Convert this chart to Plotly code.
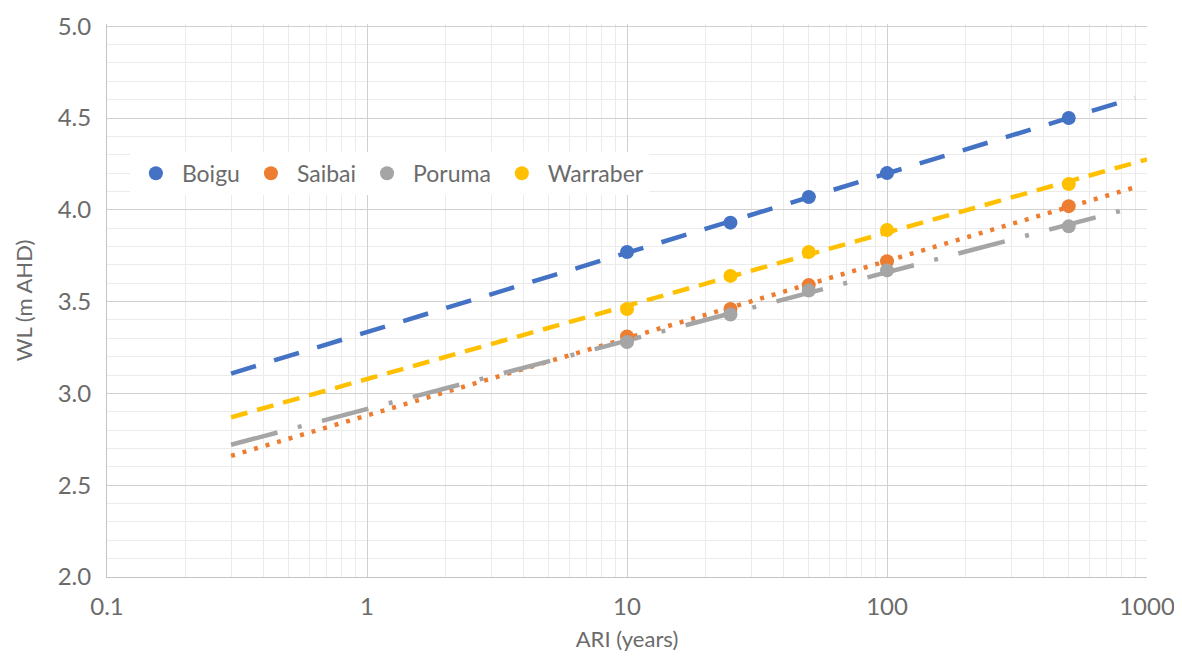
import numpy as np
import plotly.graph_objects as go

ari = [10, 25, 50, 100, 500]
series_names = ["Boigu", "Saibai", "Poruma", "Warraber"]
boigu = [3.77, 3.93, 4.07, 4.20, 4.50]
saibai = [3.31, 3.46, 3.59, 3.72, 4.02]
poruma = [3.28, 3.43, 3.56, 3.67, 3.91]
warraber = [3.46, 3.64, 3.77, 3.89, 4.14]
trend_start = [0.3, 0.3, 0.3, 0.3]
trend_end = [900, 900, 900, 1000]
y_ticks = [2.0, 2.5, 3.0, 3.5, 4.0, 4.5, 5.0]
x_ticks = [0.1, 1, 10, 100, 1000]
x_tick_labels = ["0.1", "1", "10", "100", "1000"]

colors = ["#4472C4", "#ED7D31", "#A5A5A5", "#FFC000"]
dashes = ["26px,19px", "4px,8px", "48px,21px,4px,21px", "17px,10px"]
values = [boigu, saibai, poruma, warraber]

fig = go.Figure()
lx = np.log10(ari)
for name, vals, c, d, s, e in zip(series_names, values, colors, dashes, trend_start, trend_end):
    slope, icpt = np.polyfit(lx, vals, 1)
    tx = np.array([s, e])
    ty = icpt + slope * np.log10(tx)
    fig.add_trace(go.Scatter(x=tx, y=ty, mode="lines", showlegend=False,
                             line=dict(color=c, width=4.5, dash=d), hoverinfo="skip"))
for name, vals, c in zip(series_names, values, colors):
    fig.add_trace(go.Scatter(x=ari, y=vals, mode="markers", name=name,
                             marker=dict(color=c, size=14)))

font = "Lato, 'Open Sans', sans-serif"
txt = "#6b6b6b"
fig.update_layout(
    width=1182, height=657,
    margin=dict(l=99, r=43, t=16, b=88, autoexpand=False),
    plot_bgcolor="white", paper_bgcolor="white",
    font=dict(family=font, size=24, color=txt),
    legend=dict(orientation="h", x=0.022, y=0.73, xanchor="left", yanchor="middle",
                bgcolor="white", font=dict(size=23, color=txt),
                itemwidth=42, tracegroupgap=0),
    xaxis=dict(type="log", range=[-1, 3], automargin=False,
               tickvals=x_ticks, ticktext=x_tick_labels,
               showgrid=True, gridcolor="#d0d0d0", gridwidth=1,
               minor=dict(tickvals=[m * 10 ** k for k in range(-1, 3) for m in range(2, 10)],
                          showgrid=True, gridcolor="#ebebeb", gridwidth=1, ticks=""),
               showline=True, linecolor="#c4c4c4", linewidth=1, zeroline=False,
               ticks="", ticklabelstandoff=8, tickfont=dict(size=24),
               ticklabeloverflow="allow",
               title=dict(text="ARI (years)", font=dict(size=22), standoff=12)),
    yaxis=dict(range=[2.0, 5.012], tickvals=y_ticks, tickformat=".1f", automargin=False,
               showgrid=True, gridcolor="#d0d0d0", gridwidth=1,
               minor=dict(tickvals=[round(2.0 + 0.1 * i, 1) for i in range(31)],
                          showgrid=True, gridcolor="#ebebeb", gridwidth=1, ticks=""),
               showline=True, linecolor="#c4c4c4", linewidth=1, zeroline=False,
               ticks="", ticklabelstandoff=10, tickfont=dict(size=24),
               ticklabeloverflow="allow",
               title=dict(text="WL (m AHD)", font=dict(size=22), standoff=18)),
)
fig.write_html("out.html")
